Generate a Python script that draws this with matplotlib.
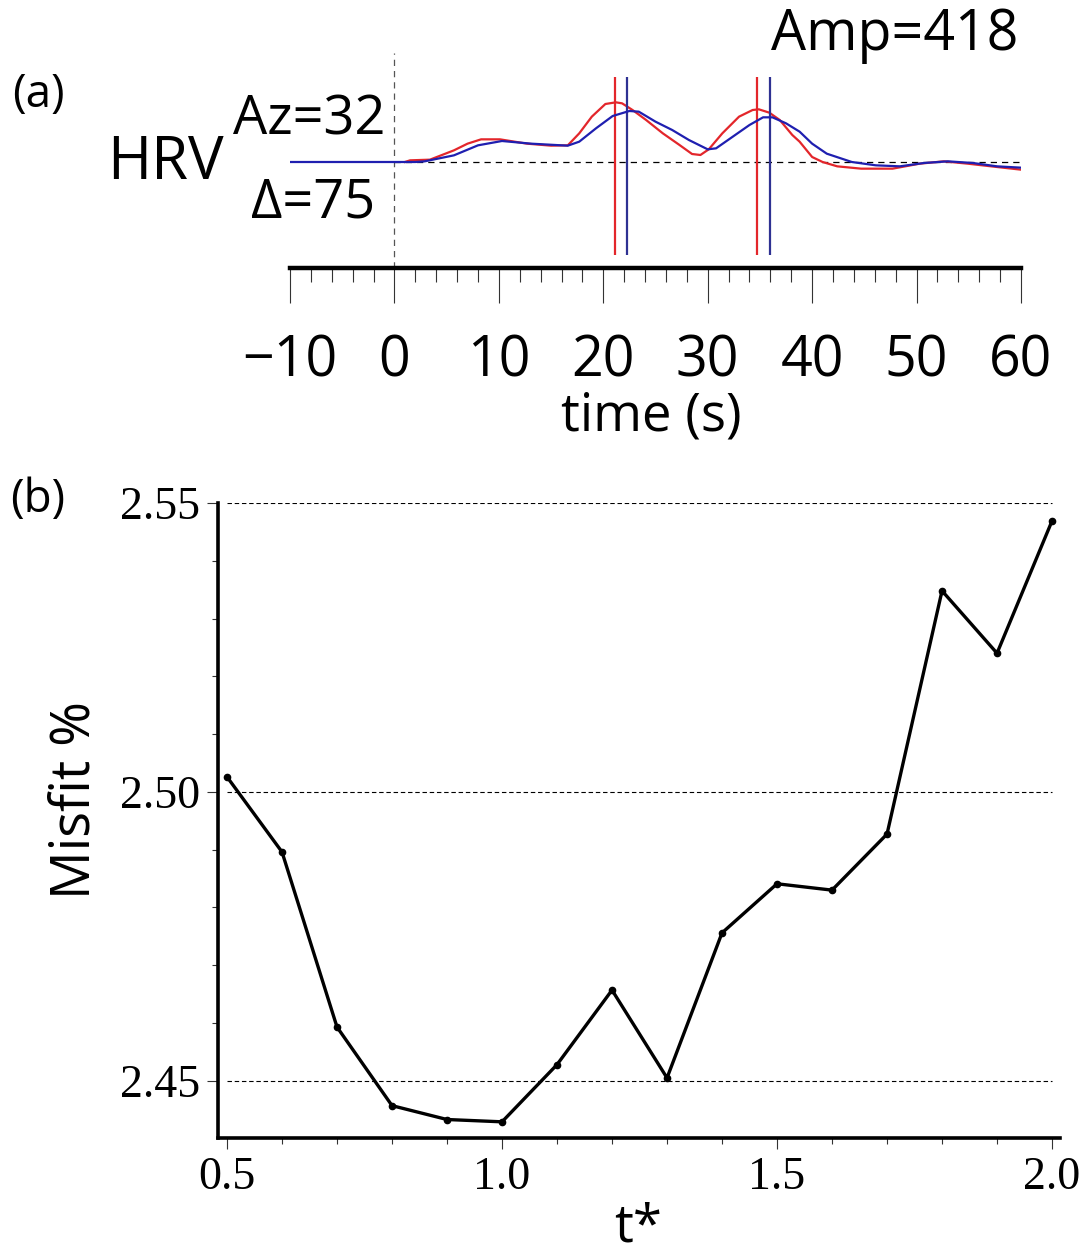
import matplotlib
matplotlib.use("Agg")
import matplotlib.pyplot as plt
from matplotlib.ticker import MultipleLocator

plt.rcParams['font.family'] = ['Open Sans', 'DejaVu Sans']

# (a) waveform (time in s, amplitude in arbitrary units)
red_t = [1.0, 1.5, 3.4, 5.7, 7.0, 8.3, 10.1, 12.7, 15.0, 16.6, 17.7, 18.9, 20.2, 21.2, 21.8,
         22.8, 24.1, 25.7, 27.3, 28.5, 29.3, 30.1, 31.4, 33.0, 34.3, 34.9, 35.9, 36.9, 38.1,
         38.8, 40.0, 41.0, 42.4, 44.7, 47.7, 50.3, 52.6, 54.9, 57.7, 60.0]
red_amp = [0, 5, 7, 35, 55, 68, 68, 55, 49, 50, 86, 136, 174, 179, 176,
           156, 126, 86, 51, 24, 21, 38, 86, 136, 156, 158, 148, 126, 81,
           61, 15, 0, -13, -20, -20, -5, 2, -5, -15, -23]
blue_t = [-10.0, 2.0, 2.9, 5.7, 8.0, 10.3, 13.1, 16.6, 17.7, 19.3, 20.9, 22.5, 23.4, 25.0,
          26.6, 28.2, 30.0, 30.8, 32.4, 34.0, 35.3, 36.2, 37.5, 38.8, 40.0, 41.4, 43.8,
          46.1, 48.4, 50.7, 53.0, 55.4, 57.7, 60.0]
blue_amp = [0, 0, 2, 20, 50, 63, 55, 49, 61, 101, 138, 153, 151, 121,
            96, 66, 38, 41, 76, 111, 134, 134, 116, 91, 55, 25, 0,
            -10, -13, -3, 2, -3, -13, -17]
red_picks = [21.1, 34.7]
blue_picks = [22.3, 36.0]
time_ticks = [-10, 0, 10, 20, 30, 40, 50, 60]

# (b) misfit vs t*
tstar = [0.5, 0.6, 0.7, 0.8, 0.9, 1.0, 1.1, 1.2, 1.3, 1.4, 1.5, 1.6, 1.7, 1.8, 1.9, 2.0]
misfit = [2.5026, 2.4896, 2.4593, 2.4457, 2.4433, 2.4429, 2.4528, 2.4657, 2.4505,
          2.4756, 2.4841, 2.4830, 2.4927, 2.5348, 2.5240, 2.5469]
misfit_ticks = [2.45, 2.50, 2.55]
tstar_ticks = [0.5, 1.0, 1.5, 2.0]

RED = '#e3262b'
BLUE = '#1f1fb0'
PICK_BLUE = '#2e3192'

fig = plt.figure(figsize=(10.81, 12.6), dpi=100)

# ---------------- panel (a) ----------------
ax1 = fig.add_axes([290 / 1081, 1 - 268 / 1260, 731 / 1081, 228 / 1260])
ax1.set_xlim(-10, 60)
ax1.set_ylim(-318, 366)

ax1.plot(blue_t, blue_amp, color=BLUE, lw=1.6, zorder=3)
ax1.plot(red_t, red_amp, color=RED, lw=1.6, zorder=2)
ax1.vlines(red_picks, -279, 255, color=RED, lw=1.6)
ax1.vlines(blue_picks, -279, 255, color=PICK_BLUE, lw=1.6)

# zero lines
ax1.hlines(0, 0, 60, color='black', lw=0.9, linestyles=(0, (5, 4)), zorder=1)
ax1.vlines(0, -318, 327, color='#555555', lw=0.9, linestyles=(0, (5, 4)), zorder=1)

for s in ['top', 'left', 'right']:
    ax1.spines[s].set_visible(False)
ax1.spines['bottom'].set_linewidth(3.2)
ax1.set_yticks([])
ax1.set_xticks(time_ticks)
ax1.xaxis.set_minor_locator(MultipleLocator(2))
ax1.tick_params(axis='x', which='major', direction='out', length=25, width=0.8,
                color='#333333', labelsize=40, pad=22)
ax1.tick_params(axis='x', which='minor', direction='out', length=10, width=0.8,
                color='#333333')

fig.text(651 / 1081, 1 - 417 / 1260, 'time (s)', fontsize=38, ha='center', va='center')
fig.text(38 / 1081, 1 - 95 / 1260, '(a)', fontsize=33, ha='center', va='center')
fig.text(165 / 1081, 1 - 163 / 1260, 'HRV', fontsize=43, ha='center', va='center')
fig.text(309 / 1081, 1 - 120 / 1260, 'Az=32', fontsize=39, ha='center', va='center')
fig.text(313 / 1081, 1 - 203 / 1260, 'Δ=75', fontsize=39, ha='center', va='center')
fig.text(895 / 1081, 1 - 35 / 1260, 'Amp=418', fontsize=40, ha='center', va='center')

# ---------------- panel (b) ----------------
ax2 = fig.add_axes([218 / 1081, 1 - 1138 / 1260, 842 / 1081, 635 / 1260])
ax2.set_xlim(0.4836, 2.0145)
ax2.set_ylim(2.4401, 2.55)

ax2.hlines(misfit_ticks, tstar[0], tstar[-1], color='black', lw=0.8,
           linestyles=(0, (4, 2.5)), zorder=1)
ax2.plot(tstar, misfit, color='black', lw=2.4, marker='o', ms=4.5, zorder=3)

for s in ['top', 'right']:
    ax2.spines[s].set_visible(False)
for s in ['left', 'bottom']:
    ax2.spines[s].set_linewidth(2.6)

ax2.set_yticks(misfit_ticks)
ax2.set_yticklabels(['%.2f' % v for v in misfit_ticks])
ax2.yaxis.set_minor_locator(MultipleLocator(0.01))
ax2.set_xticks(tstar_ticks)
ax2.set_xticklabels(['%.1f' % v for v in tstar_ticks])
ax2.xaxis.set_minor_locator(MultipleLocator(0.1))
ax2.tick_params(which='major', direction='out', length=8, width=0.8, color='#333333',
                labelsize=33, pad=5)
ax2.tick_params(which='minor', direction='out', length=4, width=0.8, color='#333333')
for lab in ax2.get_xticklabels() + ax2.get_yticklabels():
    lab.set_family(['Liberation Serif', 'DejaVu Serif'])

fig.text(75 / 1081, 1 - 800 / 1260, 'Misfit %', fontsize=39, rotation=90,
         ha='center', va='center')
fig.text(638 / 1081, 1 - 1228 / 1260, 't*', fontsize=38, ha='center', va='center')
fig.text(38 / 1081, 1 - 500 / 1260, '(b)', fontsize=33, ha='center', va='center')

fig.savefig('out.png', dpi=100)
